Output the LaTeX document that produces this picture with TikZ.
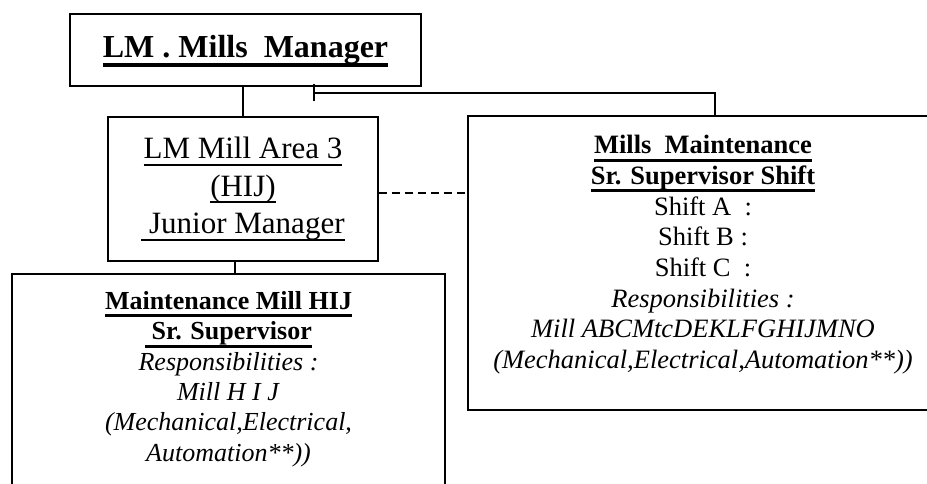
\documentclass[tikz,border=0pt]{standalone}
\usepackage{fontspec}
\setmainfont{Liberation Serif}
\usepackage{tikz}
\usetikzlibrary{arrows.meta,positioning}
\newsavebox{\undlbox}
\newcommand{\undl}[3][2pt]{\sbox{\undlbox}{#3}\rlap{\raisebox{#2}[0pt][0pt]{\rule{\wd\undlbox}{#1}}}\usebox{\undlbox}}

\begin{document}
\begin{tikzpicture}[
  x=1pt, y=-1pt,
  box/.style={rectangle, draw=black, line width=1.8pt, inner sep=0pt, align=center},
  txt/.style={inner sep=0pt, align=center, anchor=north},
  link/.style={line width=1.8pt},
  dotted link/.style={line width=1.4pt, dash pattern=on 8pt off 5pt}
]
\useasboundingbox (0,0) rectangle (927,484);
\node (mgr) [box, minimum width=351pt, minimum height=72pt,
  font=\fontsize{32}{36}\selectfont\bfseries] at (245.5,50)
  {\undl[3.5pt]{-9pt}{LM . Mills\ \ Manager}};
\node (jm) [box, minimum width=270pt, minimum height=144pt,
  font=\fontsize{31}{37.5}\selectfont] at (243,189)
  {\undl{-7pt}{LM Mill Area 3}\\ \undl{-7pt}{(HIJ)}\\ \undl{-7pt}{\ Junior Manager}};
\node (sup) [box, minimum width=433pt, minimum height=230pt] at (228.5,389) {};
\node (ms) [box, minimum width=470pt, minimum height=294pt] at (703,263) {};
\node (supT) [txt, below=18pt of sup.north, anchor=north, font=\fontsize{26}{30.4}\selectfont]
  {\textbf{\undl[3pt]{-8pt}{Maintenance Mill HIJ}}\\
   \textbf{\undl[3pt]{-8pt}{\ Sr. Supervisor}}\\
   \textit{Responsibilities :}\\
   \textit{Mill H I J}\\
   \textit{(Mechanical,Electrical,}\\
   \textit{Automation**))}};
\node (msT) [txt, below=20pt of ms.north, anchor=north, font=\fontsize{26.5}{30.7}\selectfont]
  {\textbf{\undl[3pt]{-8pt}{Mills\ \ Maintenance}}\\
   \textbf{\undl[3pt]{-8pt}{Sr. Supervisor Shift}}\\
   Shift A\ \ :\\
   Shift B :\\
   Shift C\ \ :\\
   \textit{Responsibilities :}\\
   \textit{Mill ABCMtcDEKLFGHIJMNO}\\
   \textit{(Mechanical,Electrical,Automation**))}};
\coordinate (tee) at (313,93);

\draw[link] (mgr.south -| jm.north) -- (jm.north);
\draw[link, {Bar[width=17pt]}-] (tee) -| ([xshift=12pt]ms.north);
\draw[link] ([xshift=-8pt]jm.south) -- ([xshift=-8pt]jm.south |- sup.north);
\draw[dotted link] ([yshift=-4pt]jm.east) -- ([yshift=-4pt]jm.east -| ms.west);
\end{tikzpicture}
\end{document}
